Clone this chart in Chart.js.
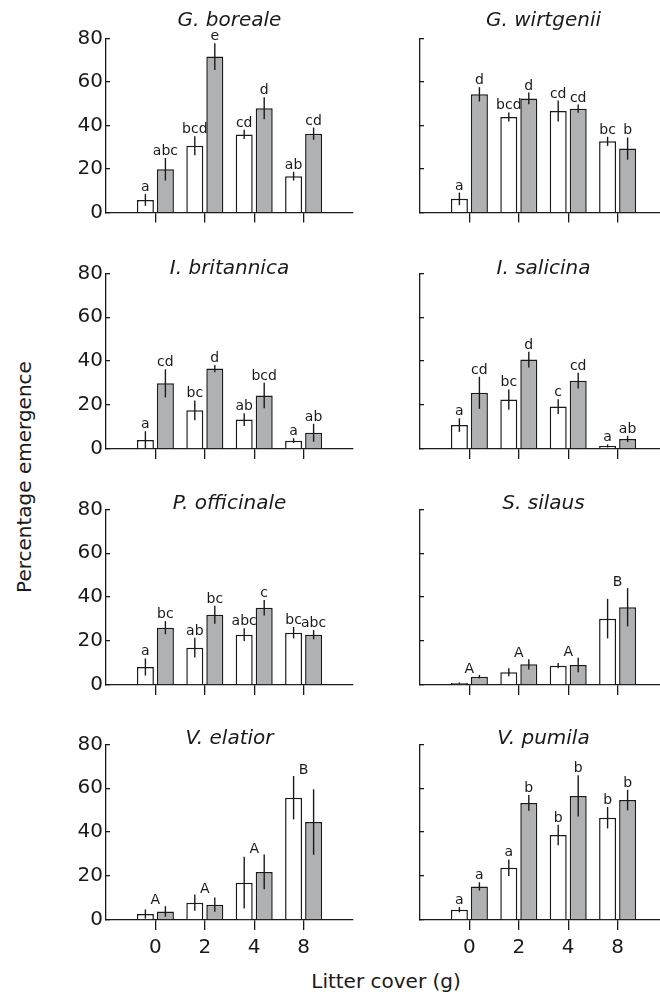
<!DOCTYPE html>
<html>
<head>
<meta charset="utf-8">
<script src="https://cdn.jsdelivr.net/npm/chart.js@4.4.1/dist/chart.umd.min.js"></script>
<style>
  html, body { margin: 0; padding: 0; background: #fff; }
  #wrap { position: relative; width: 660px; height: 994px; overflow: hidden; background: #fff; }
  #wrap canvas { position: absolute; }
  .axis-label { position: absolute; font-family: 'DejaVu Sans', sans-serif; font-size: 20px; line-height: 20px; color: #1a1a1a; text-align: center; white-space: nowrap; }
</style>
</head>
<body>
<div id="wrap">
  <div class="axis-label" id="ylab" style="left:-126px; top:467px; width:300px; transform: rotate(-90deg);">Percentage emergence</div>
  <div class="axis-label" id="xlab" style="left:236px; top:971px; width:300px;">Litter cover (g)</div>
</div>
<script>
// litter cover categories (empty slots pad the axis on both sides)
const coverLabels = ['', '0', '2', '4', '8', ''];

// G. boreale
const borealeWhite = [5.8, 30.7, 35.9, 16.7];
const borealeWhiteErr = [2.7, 4.4, 2.1, 2.0];
const borealeGrey = [19.9, 71.6, 47.9, 36.2];
const borealeGreyErr = [5.2, 6.1, 5.0, 2.8];
const borealeWhiteLetters = ['a', 'bcd', 'cd', 'ab'];
const borealeGreyLetters = ['abc', 'e', 'd', 'cd'];

// G. wirtgenii
const wirtgeniiWhite = [6.3, 43.9, 46.6, 32.7];
const wirtgeniiWhiteErr = [2.9, 2.1, 4.8, 2.1];
const wirtgeniiGrey = [54.3, 52.4, 47.7, 29.4];
const wirtgeniiGreyErr = [3.3, 2.7, 1.9, 5.1];
const wirtgeniiWhiteLetters = ['a', 'bcd', 'cd', 'bc'];
const wirtgeniiGreyLetters = ['d', 'd', 'cd', 'b'];

// I. britannica
const britannicaWhite = [4.1, 17.6, 13.4, 3.8];
const britannicaWhiteErr = [4.0, 4.5, 2.9, 1.1];
const britannicaGrey = [29.9, 36.6, 24.4, 7.4];
const britannicaGreyErr = [6.4, 1.7, 5.8, 4.1];
const britannicaWhiteLetters = ['a', 'bc', 'ab', 'a'];
const britannicaGreyLetters = ['cd', 'd', 'bcd', 'ab'];

// I. salicina
const salicinaWhite = [10.9, 22.5, 19.3, 1.4];
const salicinaWhiteErr = [3.1, 4.6, 3.4, 0.7];
const salicinaGrey = [25.6, 40.7, 31.1, 4.6];
const salicinaGreyErr = [7.3, 3.6, 3.6, 1.4];
const salicinaWhiteLetters = ['a', 'bc', 'c', 'a'];
const salicinaGreyLetters = ['cd', 'd', 'cd', 'ab'];

// P. officinale
const officinaleWhite = [8.2, 17.0, 22.9, 23.8];
const officinaleWhiteErr = [3.9, 4.5, 2.9, 2.6];
const officinaleGrey = [26.1, 32.0, 35.2, 22.9];
const officinaleGreyErr = [3.0, 4.1, 3.5, 2.1];
const officinaleWhiteLetters = ['a', 'ab', 'abc', 'bc'];
const officinaleGreyLetters = ['bc', 'bc', 'c', 'abc'];

// S. silaus (one letter per cover level)
const silausWhite = [0.9, 5.8, 8.8, 30.2];
const silausWhiteErr = [0.3, 1.8, 1.2, 9.0];
const silausGrey = [3.8, 9.4, 9.1, 35.4];
const silausGreyErr = [0.8, 2.3, 3.3, 8.7];
const silausGroupLetters = ['A', 'A', 'A', 'B'];

// V. elatior (one letter per cover level)
const elatiorWhite = [2.7, 7.9, 17.0, 55.7];
const elatiorWhiteErr = [2.1, 3.7, 11.8, 9.9];
const elatiorGrey = [3.9, 7.0, 21.9, 44.6];
const elatiorGreyErr = [2.4, 3.3, 7.9, 14.9];
const elatiorGroupLetters = ['A', 'A', 'A', 'B'];

// V. pumila
const pumilaWhite = [4.7, 23.8, 38.7, 46.6];
const pumilaWhiteErr = [1.2, 3.8, 4.7, 4.9];
const pumilaGrey = [15.3, 53.3, 56.5, 54.6];
const pumilaGreyErr = [1.9, 3.6, 9.4, 4.7];
const pumilaWhiteLetters = ['a', 'a', 'b', 'b'];
const pumilaGreyLetters = ['a', 'b', 'b', 'b'];

const yTicks = [0, 20, 40, 60, 80];

const panels = [
  { title: 'G. boreale', white: borealeWhite, whiteErr: borealeWhiteErr, grey: borealeGrey, greyErr: borealeGreyErr, whiteLetters: borealeWhiteLetters, greyLetters: borealeGreyLetters },
  { title: 'G. wirtgenii', white: wirtgeniiWhite, whiteErr: wirtgeniiWhiteErr, grey: wirtgeniiGrey, greyErr: wirtgeniiGreyErr, whiteLetters: wirtgeniiWhiteLetters, greyLetters: wirtgeniiGreyLetters },
  { title: 'I. britannica', white: britannicaWhite, whiteErr: britannicaWhiteErr, grey: britannicaGrey, greyErr: britannicaGreyErr, whiteLetters: britannicaWhiteLetters, greyLetters: britannicaGreyLetters },
  { title: 'I. salicina', white: salicinaWhite, whiteErr: salicinaWhiteErr, grey: salicinaGrey, greyErr: salicinaGreyErr, whiteLetters: salicinaWhiteLetters, greyLetters: salicinaGreyLetters },
  { title: 'P. officinale', white: officinaleWhite, whiteErr: officinaleWhiteErr, grey: officinaleGrey, greyErr: officinaleGreyErr, whiteLetters: officinaleWhiteLetters, greyLetters: officinaleGreyLetters },
  { title: 'S. silaus', white: silausWhite, whiteErr: silausWhiteErr, grey: silausGrey, greyErr: silausGreyErr, groupLetters: silausGroupLetters },
  { title: 'V. elatior', white: elatiorWhite, whiteErr: elatiorWhiteErr, grey: elatiorGrey, greyErr: elatiorGreyErr, groupLetters: elatiorGroupLetters },
  { title: 'V. pumila', white: pumilaWhite, whiteErr: pumilaWhiteErr, grey: pumilaGrey, greyErr: pumilaGreyErr, whiteLetters: pumilaWhiteLetters, greyLetters: pumilaGreyLetters }
];

const ink = '#1a1a1a';
const greyFill = '#b0b1b3';
const FONT = "'DejaVu Sans', sans-serif";

// layout of the 4x2 grid
const canvasTops = [0, 235, 471, 706];
const canvasHeights = [235, 235, 235, 288];
const xAxisHeights = [22.4, 21, 21, 74];
const titlePads = [{ top: 8.3, bottom: 6 }, { top: 21.3, bottom: -7 }, { top: 20.3, bottom: -6 }, { top: 20.3, bottom: -6 }];
const colLefts = [0, 314];

const pad = arr => [null, ...arr, null];

// error bars + significance letters
const errorBarPlugin = {
  id: 'errorBars',
  afterDatasetsDraw(chart, args, opts) {
    const ctx = chart.ctx;
    const y = chart.scales.y;
    const x = chart.scales.x;
    ctx.save();
    ctx.strokeStyle = ink;
    ctx.lineWidth = 1.4;
    ctx.fillStyle = ink;
    ctx.font = "14px " + FONT;
    ctx.textAlign = 'center';
    ctx.textBaseline = 'alphabetic';
    const groupTop = [];
    chart.data.datasets.forEach((ds, di) => {
      const meta = chart.getDatasetMeta(di);
      meta.data.forEach((bar, i) => {
        const v = ds.data[i];
        if (v == null) return;
        const e = ds.errors[i];
        const top = y.getPixelForValue(v + e);
        const bot = y.getPixelForValue(Math.max(0, v - e));
        ctx.beginPath();
        ctx.moveTo(bar.x, top);
        ctx.lineTo(bar.x, bot);
        ctx.stroke();
        groupTop[i] = Math.min(groupTop[i] === undefined ? Infinity : groupTop[i], top);
        if (ds.letters) ctx.fillText(ds.letters[i], bar.x, top - 3);
      });
    });
    if (opts.groupLetters) {
      opts.groupLetters.forEach((l, i) => {
        if (!l) return;
        ctx.fillText(l, x.getPixelForValue(i), groupTop[i] - 2);
      });
    }
    ctx.restore();
  }
};

const wrap = document.getElementById('wrap');

panels.forEach((p, k) => {
  const row = Math.floor(k / 2);
  const col = k % 2;
  const cv = document.createElement('canvas');
  cv.width = 360;
  cv.height = canvasHeights[row];
  cv.style.left = colLefts[col] + 'px';
  cv.style.top = canvasTops[row] + 'px';
  cv.style.width = '360px';
  cv.style.height = canvasHeights[row] + 'px';
  wrap.appendChild(cv);

  const bottomRow = row === 3;
  const leftCol = col === 0;

  new Chart(cv.getContext('2d'), {
    type: 'bar',
    data: {
      labels: coverLabels,
      datasets: [
        {
          data: pad(p.white), errors: pad(p.whiteErr), letters: p.whiteLetters ? pad(p.whiteLetters) : null,
          backgroundColor: '#ffffff', borderColor: ink, borderWidth: 1.5,
          categoryPercentage: 0.81, barPercentage: 0.85
        },
        {
          data: pad(p.grey), errors: pad(p.greyErr), letters: p.greyLetters ? pad(p.greyLetters) : null,
          backgroundColor: greyFill, borderColor: ink, borderWidth: 1.5,
          categoryPercentage: 0.81, barPercentage: 0.85
        }
      ]
    },
    options: {
      responsive: false,
      animation: false,
      devicePixelRatio: 1,
      events: [],
      layout: { padding: { left: 0, right: 7, top: 0, bottom: 0 } },
      plugins: {
        legend: { display: false },
        tooltip: { enabled: false },
        title: {
          display: true,
          text: p.title,
          fullSize: false,
          color: ink,
          font: { family: FONT, size: 20, style: 'italic', weight: 'normal', lineHeight: 1.2 },
          padding: titlePads[row]
        },
        errorBars: { groupLetters: p.groupLetters ? pad(p.groupLetters) : null }
      },
      scales: {
        x: {
          type: 'category',
          offset: false,
          border: { display: true, color: ink, width: 1.3 },
          grid: {
            offset: false,
            drawOnChartArea: false,
            drawTicks: true,
            tickLength: 10,
            lineWidth: 1.3,
            color: c => (c.index >= 1 && c.index <= 4) ? ink : 'rgba(0,0,0,0)'
          },
          ticks: {
            display: bottomRow,
            autoSkip: false,
            maxRotation: 0,
            padding: 6,
            color: ink,
            font: { family: FONT, size: 20 }
          },
          afterFit: s => { s.height = xAxisHeights[row]; }
        },
        y: {
          min: 0,
          max: 80,
          afterBuildTicks: s => { s.ticks = yTicks.map(v => ({ value: v })); },
          border: { display: true, color: ink, width: 1.3 },
          grid: {
            drawOnChartArea: false,
            drawTicks: true,
            tickLength: -4,
            lineWidth: 1.3,
            color: ink
          },
          ticks: {
            display: leftCol,
            padding: 7,
            color: ink,
            font: { family: FONT, size: 20 }
          },
          afterFit: s => { s.width = 106; }
        }
      }
    },
    plugins: [errorBarPlugin]
  });
});
</script>
</body>
</html>
